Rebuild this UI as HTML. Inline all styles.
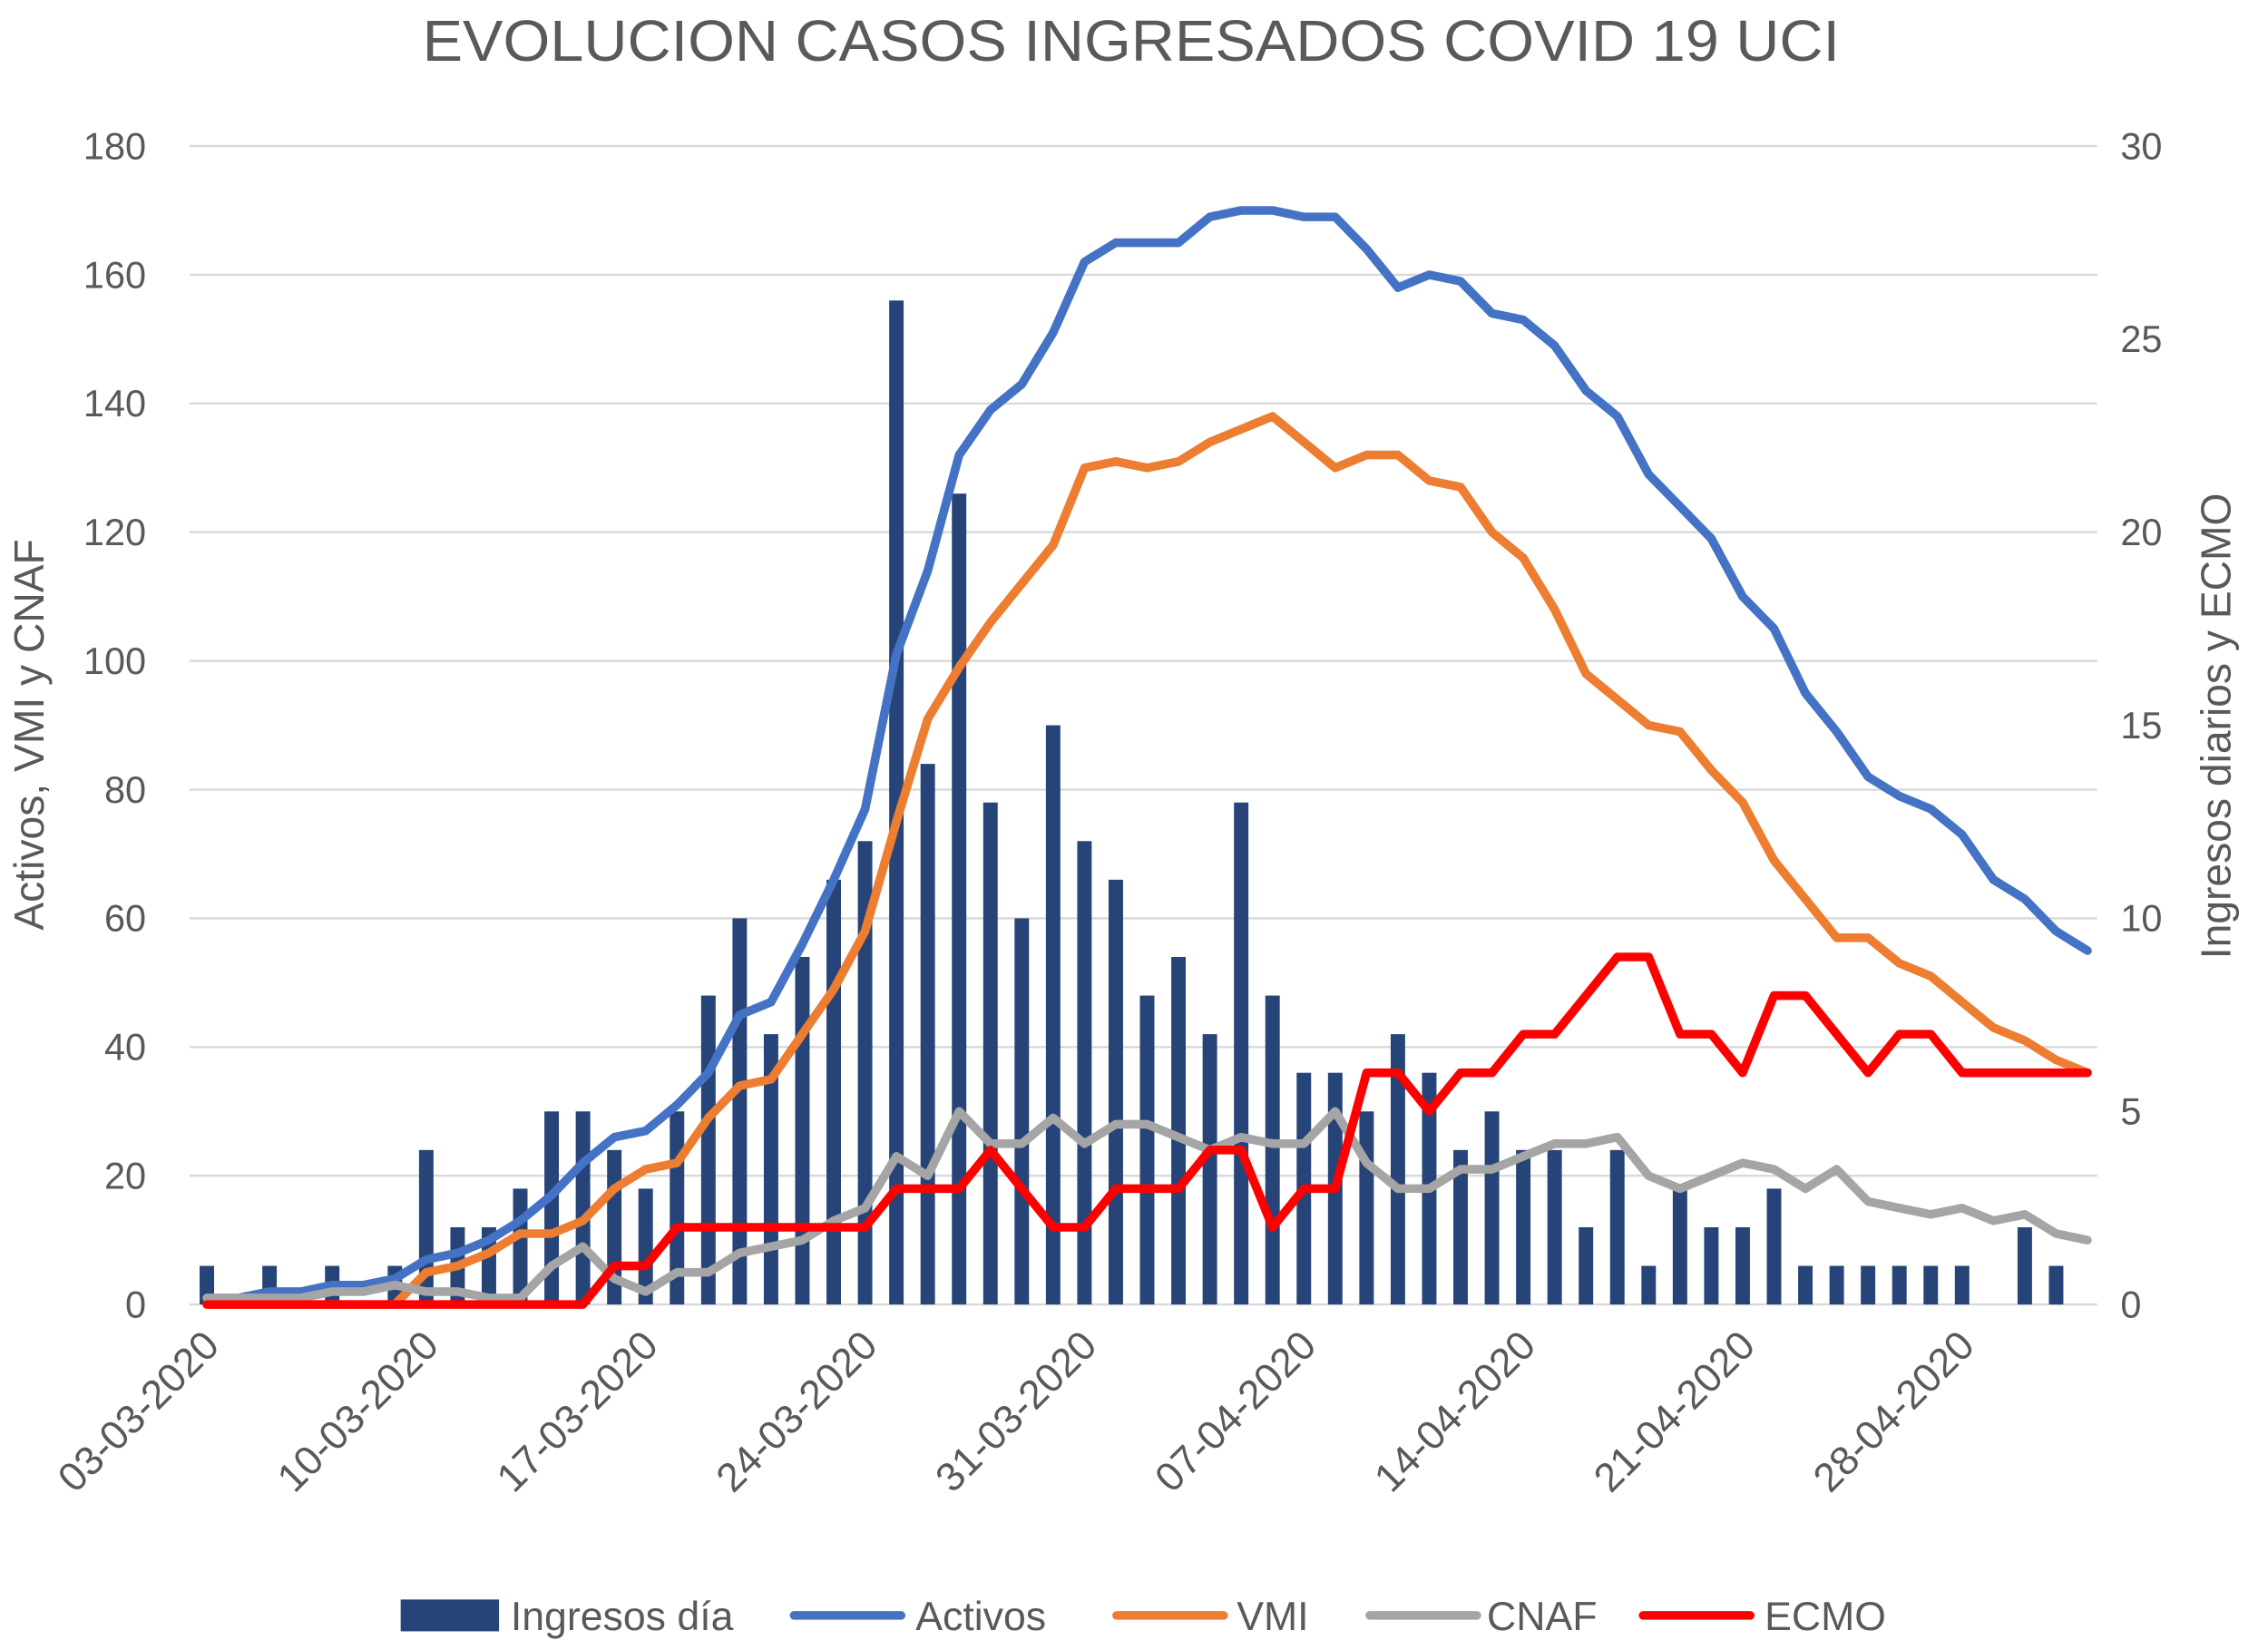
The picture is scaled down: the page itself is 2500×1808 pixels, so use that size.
<!DOCTYPE html>
<html><head><meta charset="utf-8"><style>
html,body{margin:0;padding:0;background:#fff;}
svg{display:block;font-family:"Liberation Sans",sans-serif;}
</style></head><body>
<svg id="chart" width="2500" height="1808" viewBox="0 0 1568 1134" xmlns="http://www.w3.org/2000/svg">
<text x="782" y="42" text-anchor="middle" font-size="40" fill="#595959" textLength="980" lengthAdjust="spacingAndGlyphs">EVOLUCION CASOS INGRESADOS COVID 19 UCI</text>
<g id="grid"></g>
<g id="bars"></g>
<g id="lines"></g>
<g id="axes"></g>
<text transform="translate(30,508) rotate(-90)" text-anchor="middle" font-size="29" fill="#595959">Activos, VMI y CNAF</text>
<text transform="translate(1542,502) rotate(-90)" text-anchor="middle" font-size="29" fill="#595959">Ingresos diarios y ECMO</text>
<g font-size="28" fill="#595959">
  <rect x="277" y="1106" width="68" height="22" fill="#264478"/>
  <text x="353" y="1127">Ingresos día</text>
  <line x1="549" y1="1117" x2="623" y2="1117" stroke="#4472C4" stroke-width="6" stroke-linecap="round"/>
  <text x="633" y="1127">Activos</text>
  <line x1="772" y1="1117" x2="846" y2="1117" stroke="#ED7D31" stroke-width="6" stroke-linecap="round"/>
  <text x="855" y="1127">VMI</text>
  <line x1="947" y1="1117" x2="1021" y2="1117" stroke="#A5A5A5" stroke-width="6" stroke-linecap="round"/>
  <text x="1028" y="1127">CNAF</text>
  <line x1="1136" y1="1117" x2="1210" y2="1117" stroke="#FF0000" stroke-width="6" stroke-linecap="round"/>
  <text x="1220" y="1127">ECMO</text>
</g>
</svg>
<script>
const ingresos=[1,0,1,0,1,0,1,4,2,2,3,5,5,4,3,5,8,10,7,9,11,12,26,14,21,13,10,15,12,11,8,9,7,13,8,6,6,5,7,6,4,5,4,4,2,4,1,3,2,2,3,1,1,1,1,1,1,0,2,1,0];
const activos=[1,1,2,2,3,3,4,7,8,10,13,17,22,26,27,31,36,45,47,56,66,77,101,114,132,139,143,151,162,165,165,165,169,170,170,169,169,164,158,160,159,154,153,149,142,138,129,124,119,110,105,95,89,82,79,77,73,66,63,58,55];
const vmi=[0,0,0,0,0,0,0,5,6,8,11,11,13,18,21,22,29,34,35,42,49,58,75,91,99,106,112,118,130,131,130,131,134,136,138,134,130,132,132,128,127,120,116,108,98,94,90,89,83,78,69,63,57,57,53,51,47,43,41,38,36];
const cnaf=[1,1,1,1,2,2,3,2,2,1,1,6,9,4,2,5,5,8,9,10,13,15,23,20,30,25,25,29,25,28,28,26,24,26,25,25,30,22,18,18,21,21,23,25,25,26,20,18,20,22,21,18,21,16,15,14,15,13,14,11,10];
const ecmo=[0,0,0,0,0,0,0,0,0,0,0,0,0,1,1,2,2,2,2,2,2,2,3,3,3,4,3,2,2,3,3,3,4,4,2,3,3,6,6,5,6,6,7,7,8,9,9,7,7,6,8,8,7,6,7,7,6,6,6,6,6];
const leftTicks=[0,20,40,60,80,100,120,140,160,180];
const rightTicks=[0,5,10,15,20,25,30];
const dateLabels=["03-03-2020","10-03-2020","17-03-2020","24-03-2020","31-03-2020","07-04-2020","14-04-2020","21-04-2020","28-04-2020"];

const NS="http://www.w3.org/2000/svg";
const x0=143, step=21.67, yBase=902, yTop=101;
const xPos=i=>x0+i*step;
const yL=v=>yBase-(v/180)*(yBase-yTop);
const yR=v=>yBase-(v/30)*(yBase-yTop);
function mk(tag,attrs,parent){const e=document.createElementNS(NS,tag);for(const k in attrs)e.setAttribute(k,attrs[k]);parent.appendChild(e);return e;}
const grid=document.getElementById('grid'),axes=document.getElementById('axes'),bars=document.getElementById('bars'),lines=document.getElementById('lines');
leftTicks.forEach(t=>{
  const y=yL(t);
  const l=mk('line',{x1:131,x2:1450,y1:y,y2:y,stroke:'#D9D9D9','stroke-width':1.5},grid);
  
  
  const tx=mk('text',{x:101,y:y+9,'text-anchor':'end','font-size':26,fill:'#595959'},axes);
  tx.textContent=t;
  
  
});
rightTicks.forEach(t=>{
  const tx=mk('text',{x:1466,y:yR(t)+9,'text-anchor':'start','font-size':26,fill:'#595959'},axes);
  tx.textContent=t;
  
  
});
dateLabels.forEach((d,k)=>{
  const x=xPos(k*7)+10;
  const tx=mk('text',{x:x,y:932,'text-anchor':'end','font-size':28,fill:'#595959',transform:`rotate(-45 ${x} 932)`},axes);
  tx.textContent=d;
  
  
});
ingresos.forEach((v,i)=>{
  if(v<=0)return;
  const r=mk('rect',{x:xPos(i)-5,y:yR(v),width:10,height:yBase-yR(v),fill:'#264478'},bars);
  
  
});
function line(arr,fy,color,name){
  const pts=arr.map((v,i)=>xPos(i).toFixed(1)+','+fy(v).toFixed(1)).join(' ');
  const p=mk('polyline',{points:pts,fill:'none',stroke:color,'stroke-width':6,'stroke-linejoin':'round','stroke-linecap':'round'},lines);
  
  
}
line(activos,yL,'#4472C4','line-activos');
line(vmi,yL,'#ED7D31','line-vmi');
line(cnaf,yL,'#A5A5A5','line-cnaf');
line(ecmo,yR,'#FF0000','line-ecmo');
</script>
</body></html>
